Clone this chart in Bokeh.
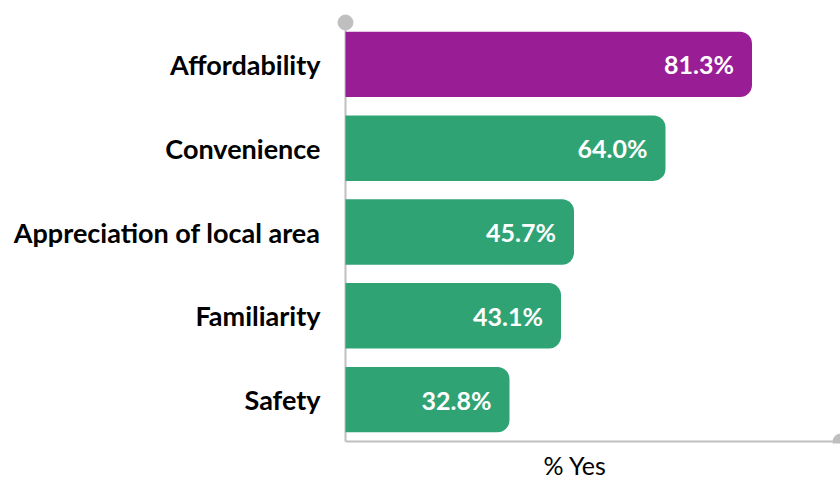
from bokeh.plotting import figure
from bokeh.models import Range1d, FixedTicker, ColumnDataSource, Title
from bokeh.core.properties import value
from bokeh.embed import file_html
from bokeh.resources import INLINE

categories = ["Affordability", "Convenience", "Appreciation of local area", "Familiarity", "Safety"]
values = [81.3, 64.0, 45.7, 43.1, 32.8]
colors = ["#991E96", "#30A375", "#30A375", "#30A375", "#30A375"]
labels = ["81.3%", "64.0%", "45.7%", "43.1%", "32.8%"]
axis_title = "% Yes"

n = len(categories)
ypos = [n - 1 - i for i in range(n)]

PX_Y = 1 / 83.8   # data units per pixel (y)
PX_X = 0.2        # data units per pixel (x)
X_END = 99.0

src = ColumnDataSource(dict(y=ypos, v=values, c=colors, lab=labels, cat=categories))

p = figure(
    frame_width=504, frame_height=431,
    x_range=Range1d(-9 * PX_X, X_END),
    y_range=Range1d(-0.5 - 2 * PX_Y, n - 0.5 + 10 * PX_Y),
    output_backend="svg", toolbar_location=None,
    min_border_left=336, min_border_right=0, min_border_top=12, min_border_bottom=38,
)
p.outline_line_color = None
p.grid.visible = False
p.background_fill_color = "white"
p.border_fill_color = "white"

# axis lines with end dots
axis_col = "#BFBFBF"
p.segment(x0=[0], y0=[-0.5], x1=[0], y1=[n - 0.5], line_color=axis_col, line_width=2)
p.segment(x0=[0], y0=[-0.5], x1=[X_END], y1=[-0.5], line_color=axis_col, line_width=2)
p.scatter(x=[0], y=[n - 0.5], size=15, color=axis_col)
p.scatter(x=[X_END], y=[-0.5], size=15, color=axis_col)

p.hbar(y="y", left=0, right="v", height=0.78, fill_color="c", line_color=None,
       border_radius=(0, 12, 12, 0), source=src)

p.text(x="v", y="y", text="lab", x_offset=-18, text_align="right", text_baseline="middle",
       text_color="white", text_font=value("Lato"), text_font_style="bold",
       text_font_size="25px", source=src)

yax = p.yaxis[0]
yax.ticker = FixedTicker(ticks=ypos)
yax.major_label_overrides = {y: c for y, c in zip(ypos, categories)}
yax.axis_line_color = None
yax.major_tick_line_color = None
yax.minor_tick_line_color = None
yax.major_tick_out = 0
yax.major_label_standoff = 16
yax.major_label_text_font = "Lato"
yax.major_label_text_font_style = "bold"
yax.major_label_text_font_size = "27px"
yax.major_label_text_color = "black"

p.xaxis.visible = False

t = Title(text=axis_title, align="left", offset=207, text_font="Lato",
          text_font_style="normal", text_font_size="25px", text_color="black",
          standoff=9)
p.add_layout(t, "below")

open("out.html", "w").write(file_html(p, INLINE))
